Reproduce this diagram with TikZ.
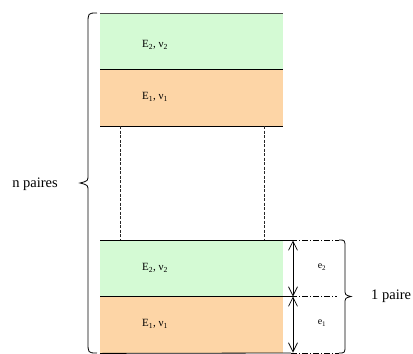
\documentclass[tikz,border=0pt]{standalone}
\usepackage{fontspec}
\setmainfont{Liberation Serif}
\usetikzlibrary{arrows.meta}
\definecolor{lgreen}{RGB}{212,250,212}
\definecolor{lorange}{RGB}{253,213,166}
\begin{document}
\begin{tikzpicture}[x=1pt,y=-1pt,
  layer/.style={draw=none,minimum width=183pt,minimum height=56.5pt,inner sep=0pt,anchor=north west},
  lbl/.style={font=\fontsize{11}{13}\selectfont,inner sep=0pt},
  elbl/.style={font=\fontsize{10}{12}\selectfont,inner sep=0pt},
  big/.style={font=\fontsize{14.5}{17}\selectfont,inner sep=0pt},
  hline/.style={line width=0.8pt},
  dashdot/.style={line width=0.6pt,dash pattern=on 6pt off 2pt on 1pt off 2pt},
  vdash/.style={line width=0.5pt,black!85,dash pattern=on 3pt off 1.5pt},
  dim/.style={line width=0.7pt,{Straight Barb[length=9pt,width=9pt]}-{Straight Barb[length=9pt,width=9pt]}},
  brace/.style={line width=0.8pt}]
\useasboundingbox (0,0) rectangle (413,354);
% top pair
\node[layer,fill=lgreen] (tg) at (100,13) {};
\node[layer,fill=lorange] (to) at (100,69.5) {};
\draw[hline,black!70] (tg.north west) -- (tg.north east);
\draw[hline] (to.north west) -- (to.north east);
\draw[hline] (to.south west) -- (to.south east);
\node[lbl] (tgl) at (155,45) {E\textsubscript{2}, ν\textsubscript{2}};
\node[lbl] (tol) at (155,97) {E\textsubscript{1}, ν\textsubscript{1}};
% bottom pair
\node[layer,fill=lgreen] (bg) at (100,240) {};
\node[layer,fill=lorange] (bo) at (100,296.5) {};
\node[lbl] (bgl) at (155,268) {E\textsubscript{2}, ν\textsubscript{2}};
\node[lbl] (bol) at (155,324) {E\textsubscript{1}, ν\textsubscript{1}};
% right side coordinates
\coordinate (r1) at (291,240);
\coordinate (r2) at (291,296.5);
\coordinate (r3) at (291,353);
\draw[hline] (bg.north west) -- (r1);
\draw[hline] (bo.north west) -- (r2);
\draw[hline] (bo.south west) -- (r3);
\coordinate (d1) at (339,240);
\coordinate (d2) at (337,296.5);
\coordinate (d3) at (339,353);
\draw[dashdot] (r1) -- (d1);
\draw[dashdot] (r2) -- (d2);
\draw[dashdot] (r3) -- (d3);
% dashed verticals
\coordinate (v1a) at (120,126);
\coordinate (v1b) at (120,240);
\coordinate (v2a) at (264,126);
\coordinate (v2b) at (264,240);
\draw[vdash] (v1a) -- (v1b);
\draw[vdash] (v2a) -- (v2b);
% dimension arrows
\coordinate (a1) at (293,240.5);
\coordinate (a2) at (293,296.5);
\coordinate (a3) at (293,352.5);
\draw[dim] (a1) -- (a2);
\draw[dim] (a2) -- (a3);
\node[elbl] (e2) at (322,267) {e\textsubscript{2}};
\node[elbl] (e1) at (322,323) {e\textsubscript{1}};
% right brace
\draw[brace] (d1) .. controls (345,240) .. (345,248) -- (345,289) .. controls (345,295) .. (351,296.5)
  .. controls (345,298) .. (345,304) -- (345,345) .. controls (345,353) .. (d3);
\node[big,anchor=west] (one) at (371,296) {1 paire};
% left brace
\coordinate (lt) at (97,13);
\coordinate (lb) at (97,353);
\draw[brace] (lt) .. controls (88,13) .. (88,24) -- (88,175) .. controls (88,181) .. (80,183)
  .. controls (88,185) .. (88,191) -- (88,342) .. controls (88,353) .. (lb);
\node[big,anchor=east] (np) at (58,184) {n paires};
\end{tikzpicture}
\end{document}
